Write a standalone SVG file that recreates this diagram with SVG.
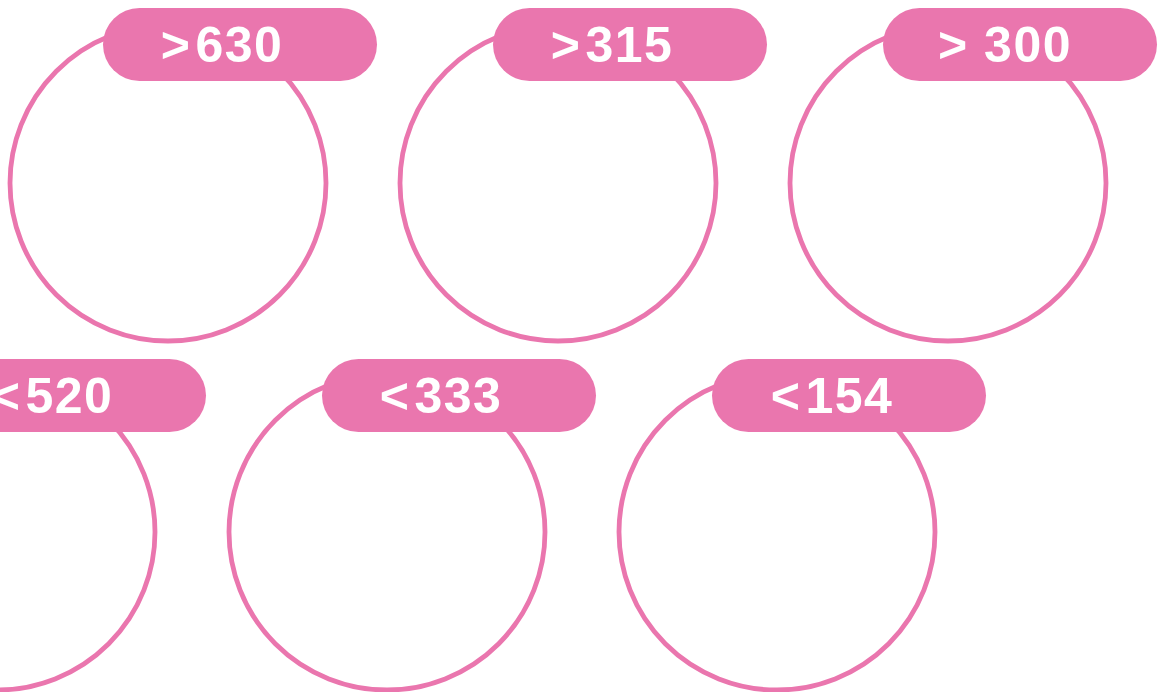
<svg xmlns="http://www.w3.org/2000/svg" width="1160" height="692" viewBox="0 0 1160 692">
<style>
.ring{fill:none;stroke:#EA76AE;stroke-width:4.8}
.pill{fill:#EA76AE}
.lbl{fill:#fff;font-family:"Liberation Sans",Arial,sans-serif;font-weight:bold;font-size:50px;letter-spacing:1.5px;text-anchor:middle}
</style>
<rect width="1160" height="692" fill="#fff"/>
<g id="n630">
<circle class="ring" cx="168" cy="183" r="158"/>
<rect class="pill" x="103" y="8" width="274" height="73" rx="36.5"/>
<text class="lbl" x="222" y="62">&gt;<tspan dx="4">630</tspan></text>
</g>
<g id="n315">
<circle class="ring" cx="558" cy="183" r="158"/>
<rect class="pill" x="493" y="8" width="274" height="73" rx="36.5"/>
<text class="lbl" x="612" y="62">&gt;<tspan dx="4">315</tspan></text>
</g>
<g id="n300">
<circle class="ring" cx="948" cy="183" r="158"/>
<rect class="pill" x="883" y="8" width="274" height="73" rx="36.5"/>
<text class="lbl" x="1005" y="62">&gt; 300</text>
</g>
<g id="n520">
<circle class="ring" cx="-3" cy="532" r="158"/>
<rect class="pill" x="-68" y="359" width="274" height="73" rx="36.5"/>
<text class="lbl" x="52" y="413">&lt;<tspan dx="4">520</tspan></text>
</g>
<g id="n333">
<circle class="ring" cx="387" cy="532" r="158"/>
<rect class="pill" x="322" y="359" width="274" height="73" rx="36.5"/>
<text class="lbl" x="441" y="413">&lt;<tspan dx="4">333</tspan></text>
</g>
<g id="n154">
<circle class="ring" cx="777" cy="532" r="158"/>
<rect class="pill" x="712" y="359" width="274" height="73" rx="36.5"/>
<text class="lbl" x="832" y="413">&lt;<tspan dx="4">154</tspan></text>
</g>
<g id="connectors"></g>
</svg>
